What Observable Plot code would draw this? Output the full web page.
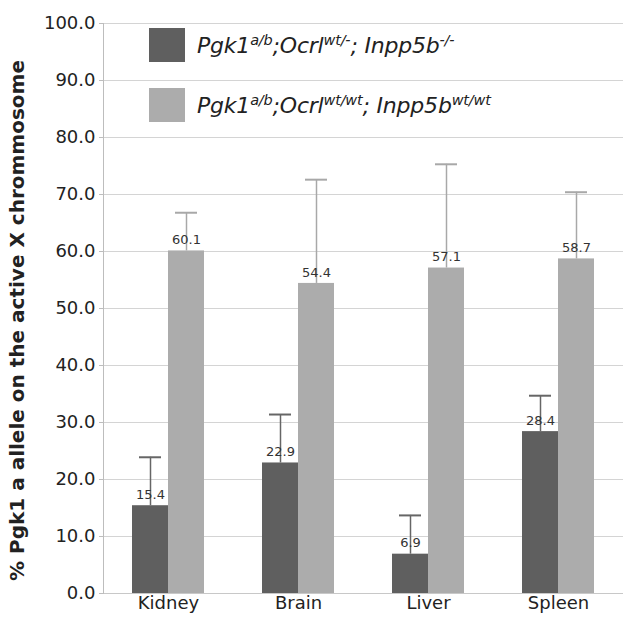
<!DOCTYPE html>
<html>
<head>
<meta charset="utf-8">
<script src="https://cdn.jsdelivr.net/npm/d3@7"></script>
<script src="https://cdn.jsdelivr.net/npm/@observablehq/plot@0.6"></script>
<style>
  html, body { margin: 0; padding: 0; background: #fff; }
  #wrap { position: relative; width: 624px; height: 621px; }
  #legend { position: absolute; left: 149px; top: 28px; font-family: "DejaVu Sans", sans-serif; font-style: italic; color: #222; }
  .row { display: flex; align-items: center; height: 34px; margin-bottom: 26px; }
  .sw { width: 36px; height: 34px; margin-right: 12px; }
  .lab { font-size: 22px; white-space: nowrap; letter-spacing: -0.2px; }
  .lab sup { font-size: 14.5px; vertical-align: 0; position: relative; top: -8px; }
</style>
</head>
<body>
<div id="wrap"></div>
<script>
const organs = ["Kidney", "Brain", "Liver", "Spleen"];
const groups = ["mutant", "wildtype"];
const mutantValues = [15.4, 22.9, 6.9, 28.4];
const mutantErrors = [8.5, 8.5, 6.8, 6.3];
const wildtypeValues = [60.1, 54.4, 57.1, 58.7];
const wildtypeErrors = [6.7, 18.2, 18.2, 11.7];
const yTicks = [0, 10, 20, 30, 40, 50, 60, 70, 80, 90, 100];
const yLabel = "% Pgk1 a allele on the active X chrommosome";

const colors = {mutant: "#5f5f5f", wildtype: "#acacac"};
const errColors = {mutant: "#666666", wildtype: "#a8a8a8"};

const data = [];
organs.forEach((o, i) => {
  data.push({organ: o, group: "mutant", value: mutantValues[i], err: mutantErrors[i]});
  data.push({organ: o, group: "wildtype", value: wildtypeValues[i], err: wildtypeErrors[i]});
});

const font = "'DejaVu Sans', sans-serif";

const chart = Plot.plot({
  width: 624,
  height: 621,
  marginLeft: 101,
  marginRight: 0,
  marginTop: 23,
  marginBottom: 28,
  style: {fontFamily: font, color: "#222", background: "#fff"},
  fx: {domain: organs, padding: 0, label: null},
  x: {domain: groups, paddingInner: 0, paddingOuter: 0.767, axis: null},
  y: {domain: [0, 100], label: yLabel},
  color: {domain: groups, range: groups.map(g => colors[g])},
  marks: [
    Plot.gridY(yTicks, {stroke: "#d4d4d4", strokeOpacity: 1, strokeWidth: 1}),
    Plot.barY(data, {fx: "organ", x: "group", y: "value", fill: "group"}),
    Plot.ruleX(data, {fx: "organ", x: "group", y1: "value", y2: d => d.value + d.err, stroke: d => errColors[d.group], strokeWidth: 1.5}),
    Plot.tickY(data, {fx: "organ", x: "group", y: d => d.value + d.err, stroke: d => errColors[d.group], strokeWidth: 2, insetLeft: 7, insetRight: 7}),
    Plot.text(data, {fx: "organ", x: "group", y: "value", text: d => d.value.toFixed(1), dy: -11, fontSize: 13, fill: "#333"}),
    Plot.ruleY([0], {stroke: "#c8c8c8"}),
    Plot.frame({anchor: "left", fx: ["Kidney"], stroke: "#bdbdbd"}),
    Plot.axisY(yTicks, {tickFormat: d => d.toFixed(1), fontSize: 18, tickSize: 4, tickPadding: 4, stroke: "#bdbdbd", fill: "#222", label: yLabel, labelAnchor: "center", labelOffset: 94, labelArrow: "none"}),
    Plot.axisFx({anchor: "bottom", tickSize: 0, tickPadding: 3, fontSize: 18, fill: "#222", label: null})
  ]
});

// bold the y-axis title (strip any arrow the library may add)
d3.select(chart).selectAll("text").filter(function() { return this.textContent.includes("Pgk1 a allele"); })
  .each(function() { this.textContent = yLabel; })
  .attr("font-weight", "bold").attr("font-size", 20).attr("fill", "#222").attr("dx", -12);

const wrap = document.getElementById("wrap");
wrap.appendChild(chart);

const legend = document.createElement("div");
legend.id = "legend";
legend.innerHTML = `
  <div class="row"><div class="sw" style="background:${colors.mutant}"></div><div class="lab">Pgk1<sup>a/b</sup>;Ocrl<sup>wt/-</sup>; Inpp5b<sup>-/-</sup></div></div>
  <div class="row"><div class="sw" style="background:${colors.wildtype}"></div><div class="lab">Pgk1<sup>a/b</sup>;Ocrl<sup>wt/wt</sup>; Inpp5b<sup>wt/wt</sup></div></div>`;
wrap.appendChild(legend);
</script>
</body>
</html>
